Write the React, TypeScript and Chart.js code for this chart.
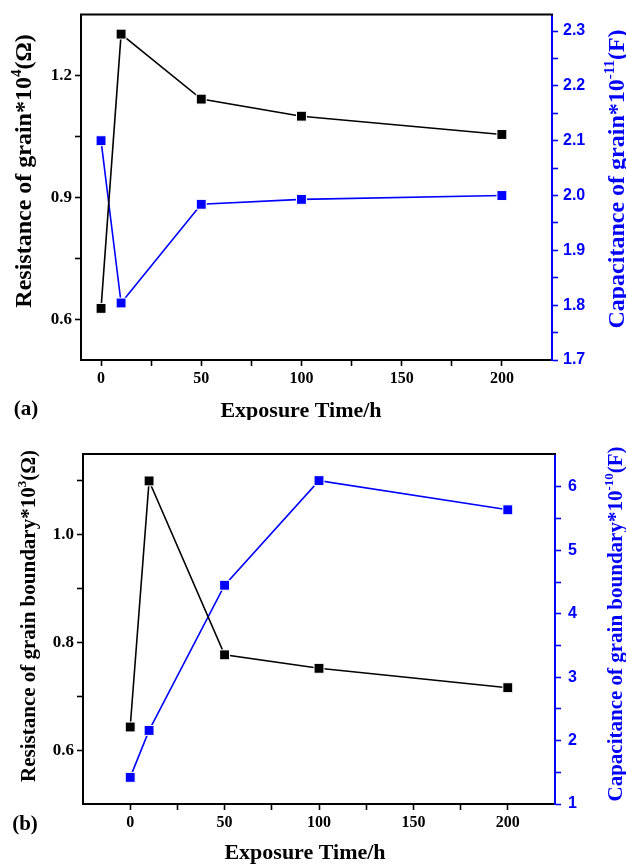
import React, { useEffect, useRef } from 'react';
import { Chart, registerables } from 'chart.js';

Chart.register(...registerables);

// ---------- data ----------
const exposureTime = [0, 10, 50, 100, 200];

// (a) grain
const grainResistance = [0.627, 1.302, 1.142, 1.1, 1.055]; // *10^4 Ω
const grainCapacitance = [2.1, 1.804, 1.984, 1.993, 2.0]; // *10^-11 F

// (b) grain boundary
const boundaryResistance = [0.643, 1.1, 0.777, 0.752, 0.716]; // *10^3 Ω
const boundaryCapacitance = [1.42, 2.16, 4.45, 6.1, 5.64]; // *10^-10 F

// ---------- ticks ----------
const xTickValues = [0, 25, 50, 75, 100, 125, 150, 175, 200];
const xTickLabels = ['0', '', '50', '', '100', '', '150', '', '200'];

const grainResTicks = [0.6, 0.75, 0.9, 1.05, 1.2];
const grainResLabels = ['0.6', '', '0.9', '', '1.2'];
const grainCapTicks = [1.7, 1.75, 1.8, 1.85, 1.9, 1.95, 2.0, 2.05, 2.1, 2.15, 2.2, 2.25, 2.3];
const grainCapLabels = ['1.7', '', '1.8', '', '1.9', '', '2.0', '', '2.1', '', '2.2', '', '2.3'];

const boundResTicks = [0.6, 0.7, 0.8, 0.9, 1.0, 1.1];
const boundResLabels = ['0.6', '', '0.8', '', '1.0', ''];
const boundCapTicks = [1, 1.5, 2, 2.5, 3, 3.5, 4, 4.5, 5, 5.5, 6];
const boundCapLabels = ['1', '', '2', '', '3', '', '4', '', '5', '', '6'];

const SERIF = '"Liberation Serif", "Times New Roman", serif';
const SANS = '"Liberation Sans", Arial, sans-serif';
const BLUE = '#0000ff';
const BLACK = '#000000';

type Part = { text: string; sup?: boolean };
type TextItem = {
  parts: Part[];
  x: number;
  y: number;
  rot: number;
  color: string;
  size: number;
};

const richTextPlugin = {
  id: 'richText',
  afterDraw(chart: any, _args: any, opts: any) {
    const ctx: CanvasRenderingContext2D = chart.ctx;
    const items: TextItem[] = (opts && opts.items) || [];
    for (const it of items) {
      ctx.save();
      ctx.translate(it.x, it.y);
      ctx.rotate(it.rot);
      ctx.fillStyle = it.color;
      ctx.textBaseline = 'alphabetic';
      ctx.textAlign = 'left';
      const supSize = Math.round(it.size * 0.62);
      const widths = it.parts.map((p) => {
        ctx.font = `bold ${p.sup ? supSize : it.size}px ${SERIF}`;
        return ctx.measureText(p.text).width;
      });
      const total = widths.reduce((a, b) => a + b, 0);
      let cx = -total / 2;
      const baseY = it.size * 0.33;
      it.parts.forEach((p, i) => {
        ctx.font = `bold ${p.sup ? supSize : it.size}px ${SERIF}`;
        ctx.fillText(p.text, cx, p.sup ? baseY - it.size * 0.42 : baseY);
        cx += widths[i];
      });
      ctx.restore();
    }
  },
};

const frameTopPlugin = {
  id: 'frameTop',
  afterDraw(chart: any) {
    const { ctx, chartArea } = chart;
    ctx.save();
    ctx.strokeStyle = BLACK;
    ctx.lineWidth = 2;
    ctx.beginPath();
    ctx.moveTo(chartArea.left - 1, chartArea.top);
    ctx.lineTo(chartArea.right + 1, chartArea.top);
    ctx.stroke();
    ctx.restore();
  },
};

function makeDataset(ys: number[], color: string, axis: string) {
  return {
    data: exposureTime.map((t, i) => ({ x: t, y: ys[i] })),
    yAxisID: axis,
    borderColor: color,
    backgroundColor: color,
    borderWidth: 1.6,
    pointStyle: 'rect',
    pointRadius: 7,
    pointHoverRadius: 7,
    pointBackgroundColor: color,
    pointBorderColor: '#ffffff',
    pointBorderWidth: 1,
    tension: 0,
    clip: false,
  };
}

function fixedTicks(values: number[]) {
  return (s: any) => {
    s.ticks = values.map((v) => ({ value: v }));
  };
}

type Cfg = {
  height: number;
  padTop: number;
  leftW: number;
  rightW: number;
  bottomH: number;
  xMin: number;
  xMax: number;
  left: { min: number; max: number; ticks: number[]; labels: string[]; values: number[] };
  right: { min: number; max: number; ticks: number[]; labels: string[]; values: number[]; pad: number };
  texts: TextItem[];
};

function buildConfig(c: Cfg): any {
  const grid = (color: string) => ({
    drawOnChartArea: false,
    drawTicks: true,
    tickLength: 6,
    tickWidth: 1.6,
    tickColor: color,
  });
  return {
    type: 'line',
    data: {
      datasets: [
        makeDataset(c.left.values, BLACK, 'y'),
        makeDataset(c.right.values, BLUE, 'y1'),
      ],
    },
    options: {
      responsive: false,
      animation: false,
      devicePixelRatio: 1,
      layout: { padding: { top: c.padTop, left: 0, right: 0, bottom: 0 } },
      plugins: {
        legend: { display: false },
        tooltip: { enabled: false },
        richText: { items: c.texts },
      },
      events: [],
      scales: {
        x: {
          type: 'linear',
          position: 'bottom',
          min: c.xMin,
          max: c.xMax,
          afterBuildTicks: fixedTicks(xTickValues),
          afterFit: (s: any) => {
            s.height = c.bottomH;
          },
          ticks: {
            autoSkip: false,
            maxRotation: 0,
            padding: 3,
            color: BLACK,
            font: { family: SERIF, size: 16, weight: 'bold' },
            callback: (_v: any, i: number) => xTickLabels[i],
          },
          grid: grid(BLACK),
          border: { color: BLACK, width: 2 },
        },
        y: {
          type: 'linear',
          position: 'left',
          min: c.left.min,
          max: c.left.max,
          afterBuildTicks: fixedTicks(c.left.ticks),
          afterFit: (s: any) => {
            s.width = c.leftW;
          },
          ticks: {
            autoSkip: false,
            padding: 3,
            color: BLACK,
            font: { family: SERIF, size: 17, weight: 'bold' },
            callback: (_v: any, i: number) => c.left.labels[i],
          },
          grid: grid(BLACK),
          border: { color: BLACK, width: 2 },
        },
        y1: {
          type: 'linear',
          position: 'right',
          min: c.right.min,
          max: c.right.max,
          afterBuildTicks: fixedTicks(c.right.ticks),
          afterFit: (s: any) => {
            s.width = c.rightW;
          },
          ticks: {
            autoSkip: false,
            padding: c.right.pad,
            color: BLUE,
            font: { family: SANS, size: 16, weight: 'bold' },
            callback: (_v: any, i: number) => c.right.labels[i],
          },
          grid: grid(BLUE),
          border: { color: BLUE, width: 2 },
        },
      },
    },
    plugins: [frameTopPlugin, richTextPlugin],
  };
}

const HALF_PI = Math.PI / 2;

const cfgA: Cfg = {
  height: 420,
  padTop: 10,
  leftW: 81,
  rightW: 74,
  bottomH: 60,
  xMin: -10,
  xMax: 225,
  left: { min: 0.5, max: 1.35, ticks: grainResTicks, labels: grainResLabels, values: grainResistance },
  right: { min: 1.7, max: 2.33, ticks: grainCapTicks, labels: grainCapLabels, values: grainCapacitance, pad: 5 },
  texts: [
    {
      parts: [{ text: 'Resistance of grain*10' }, { text: '4', sup: true }, { text: '(Ω)' }],
      x: 23, y: 171, rot: -HALF_PI, color: BLACK, size: 24,
    },
    {
      parts: [{ text: 'Capacitance of grain*10' }, { text: '-11', sup: true }, { text: '(F)' }],
      x: 616, y: 179, rot: -HALF_PI, color: BLUE, size: 24,
    },
    { parts: [{ text: 'Exposure Time/h' }], x: 301, y: 410, rot: 0, color: BLACK, size: 22 },
    { parts: [{ text: '(a)' }], x: 26, y: 408, rot: 0, color: BLACK, size: 21 },
  ],
};

const cfgB: Cfg = {
  height: 445,
  padTop: 34,
  leftW: 83,
  rightW: 71,
  bottomH: 61,
  xMin: -25,
  xMax: 225,
  left: { min: 0.5, max: 1.15, ticks: boundResTicks, labels: boundResLabels, values: boundaryResistance },
  right: { min: 1, max: 6.52, ticks: boundCapTicks, labels: boundCapLabels, values: boundaryCapacitance, pad: 7 },
  texts: [
    {
      parts: [{ text: 'Resistance of grain boundary*10' }, { text: '3', sup: true }, { text: '(Ω)' }],
      x: 28, y: 196, rot: -HALF_PI, color: BLACK, size: 21,
    },
    {
      parts: [{ text: 'Capacitance of grain boundary*10' }, { text: '-10', sup: true }, { text: '(F)' }],
      x: 615, y: 204, rot: -HALF_PI, color: BLUE, size: 21,
    },
    { parts: [{ text: 'Exposure Time/h' }], x: 305, y: 432, rot: 0, color: BLACK, size: 22 },
    { parts: [{ text: '(b)' }], x: 25, y: 403, rot: 0, color: BLACK, size: 21 },
  ],
};

function Panel({ cfg, top }: { cfg: Cfg; top: number }) {
  const ref = useRef<HTMLCanvasElement | null>(null);
  useEffect(() => {
    if (!ref.current) return;
    const chart = new Chart(ref.current, buildConfig(cfg));
    return () => chart.destroy();
  }, [cfg]);
  return (
    <canvas
      ref={ref}
      width={626}
      height={cfg.height}
      style={{ position: 'absolute', left: 0, top, width: 626, height: cfg.height, display: 'block' }}
    />
  );
}

export default function App() {
  return (
    <div style={{ position: 'absolute', left: 0, top: 0, width: 626, height: 865, background: '#fff' }}>
      <Panel cfg={cfgA} top={0} />
      <Panel cfg={cfgB} top={420} />
    </div>
  );
}
